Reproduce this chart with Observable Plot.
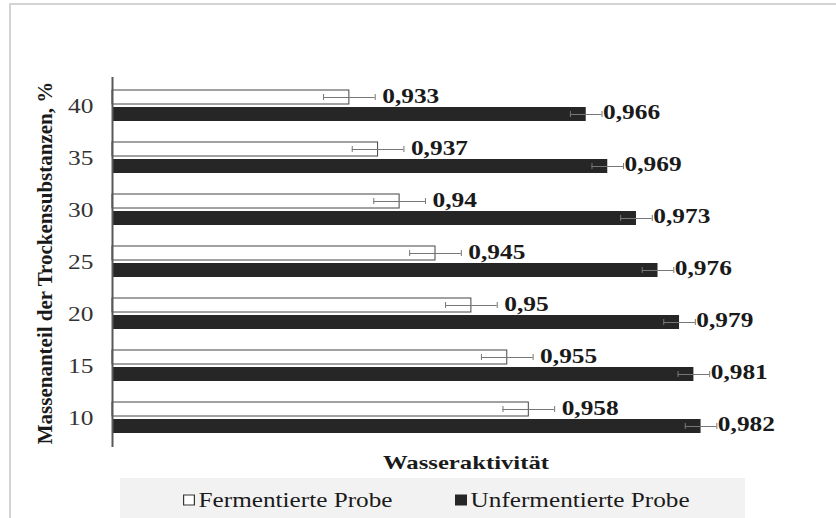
<!DOCTYPE html>
<html><head><meta charset="utf-8">
<script src="https://cdn.jsdelivr.net/npm/d3@7"></script>
<script src="https://cdn.jsdelivr.net/npm/@observablehq/plot@0.6"></script>
<style>
body{margin:0;background:#fff;}
#wrap{position:relative;width:836px;height:518px;overflow:hidden;font-family:"Liberation Serif","Times New Roman",serif;color:#1a1a1a;}
#frame{position:absolute;left:9px;top:3px;width:900px;height:600px;border-left:2px solid #d4d4d4;border-top:2px solid #d4d4d4;}
#chart{position:absolute;left:0;top:0;}
#ytitle{position:absolute;left:45px;top:263px;transform:translate(-50%,-50%) rotate(-90deg);white-space:nowrap;font-weight:bold;font-size:21px;}
#xtitle{position:absolute;left:466px;top:463px;transform:translate(-50%,-50%) scaleX(1.3);white-space:nowrap;font-weight:bold;font-size:19px;}
#legend{position:absolute;left:120px;top:478px;width:625px;height:40px;background:#f2f2f2;font-size:21px;}
.item{position:absolute;top:22px;transform:translateY(-50%) scaleX(1.2);transform-origin:left center;white-space:nowrap;display:flex;align-items:center;}
.sw{display:inline-block;width:10px;height:11px;margin-right:3px;box-sizing:border-box;}
</style></head>
<body>
<div id="wrap">
  <div id="frame"></div>
  <div id="chart"></div>
  <div id="ytitle">Massenanteil der Trockensubstanzen, %</div>
  <div id="xtitle">Wasseraktivität</div>
  <div id="legend">
    <div class="item" style="left:63px"><span class="sw" style="border:1px solid #333;background:#fff"></span>Fermentierte Probe</div>
    <div class="item" style="left:335px"><span class="sw" style="background:#262626"></span>Unfermentierte Probe</div>
  </div>
</div>
<script>
const categories = ["40", "35", "30", "25", "20", "15", "10"];
const fermented = [0.933, 0.937, 0.94, 0.945, 0.95, 0.955, 0.958];
const unfermented = [0.966, 0.969, 0.973, 0.976, 0.979, 0.981, 0.982];
const fermentedErr = [0.0036, 0.0036, 0.0036, 0.0036, 0.0036, 0.0036, 0.0036];
const unfermentedErr = [0.0022, 0.0022, 0.0022, 0.0022, 0.0022, 0.0022, 0.0022];
const fermentedLabels = ["0,933", "0,937", "0,94", "0,945", "0,95", "0,955", "0,958"];
const unfermentedLabels = ["0,966", "0,969", "0,973", "0,976", "0,979", "0,981", "0,982"];
const xMin = 0.9, xMax = 0.99;

const F = categories.map((c, i) => ({cat: c, v: fermented[i], e: fermentedErr[i], label: fermentedLabels[i]}));
const U = categories.map((c, i) => ({cat: c, v: unfermented[i], e: unfermentedErr[i], label: unfermentedLabels[i]}));

const chart = Plot.plot({
  width: 836,
  height: 477,
  marginLeft: 112,
  marginRight: 78,
  marginTop: 77,
  marginBottom: 30,
  style: {fontFamily: '"Liberation Serif","Times New Roman",serif', fontSize: "20px", background: "transparent", color: "#333"},
  x: {domain: [xMin, xMax], axis: null},
  y: {domain: categories, padding: 0, tickSize: 0, tickPadding: 19, label: null},
  marks: [
    Plot.barX(F, {x1: () => xMin, x2: "v", y: "cat", insetTop: 10, insetBottom: 28, fill: "#fff", stroke: "#444", strokeWidth: 1}),
    Plot.barX(U, {x1: () => xMin, x2: "v", y: "cat", insetTop: 27, insetBottom: 11, fill: "#262626"}),
    Plot.ruleY(F, {y: "cat", x1: d => d.v - d.e, x2: d => d.v + d.e, dy: -9, stroke: "#777", strokeWidth: 1}),
    Plot.tickX(F, {y: "cat", x: d => d.v - d.e, insetTop: 14, insetBottom: 32, stroke: "#777"}),
    Plot.tickX(F, {y: "cat", x: d => d.v + d.e, insetTop: 14, insetBottom: 32, stroke: "#777"}),
    Plot.ruleY(U, {y: "cat", x1: d => d.v - d.e, x2: d => d.v + d.e, dy: 8, stroke: "#777", strokeWidth: 1}),
    Plot.tickX(U, {y: "cat", x: d => d.v - d.e, insetTop: 31, insetBottom: 15, stroke: "#777"}),
    Plot.tickX(U, {y: "cat", x: d => d.v + d.e, insetTop: 31, insetBottom: 15, stroke: "#777"}),
    Plot.ruleX([xMin], {stroke: "#595959", strokeWidth: 2}),
    Plot.text(F, {x: d => d.v + d.e, y: "cat", text: "label", dx: 7, dy: -10, textAnchor: "start", fontSize: 20, fontWeight: "bold", fill: "#1a1a1a"}),
    Plot.text(U, {x: d => d.v + d.e, y: "cat", text: "label", dx: 1, dy: 6, textAnchor: "start", fontSize: 20, fontWeight: "bold", fill: "#1a1a1a"})
  ]
});
document.getElementById("chart").appendChild(chart);
// horizontally widen glyphs to match the stretched look of the original
chart.querySelectorAll("text").forEach(t => {
  const len = t.getComputedTextLength();
  if (len > 0) {
    t.setAttribute("textLength", (len * 1.27).toFixed(1));
    t.setAttribute("lengthAdjust", "spacingAndGlyphs");
  }
});
</script>
</body></html>
